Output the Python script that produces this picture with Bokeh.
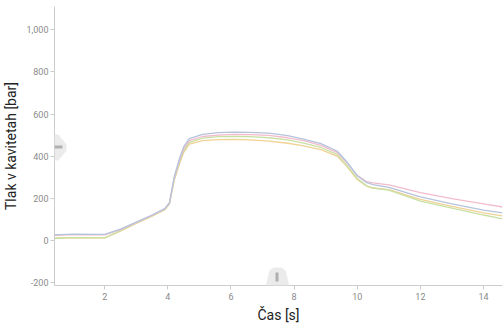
from bokeh.plotting import figure
from bokeh.models import Range1d, FixedTicker, NumeralTickFormatter, PolyAnnotation, BoxAnnotation
from bokeh.embed import file_html
from bokeh.resources import INLINE

# time [s]
times = [0.41, 1.0, 2.0, 2.5, 3.0, 3.5, 3.9, 4.05, 4.2, 4.37, 4.5, 4.68, 5.1, 5.6, 6.1,
         6.6, 7.2, 7.8, 8.3, 8.85, 9.37, 9.68, 10.0, 10.3, 10.5, 11.0, 12.0, 13.0, 14.0, 14.6]
# cavity pressure [bar]
blue = [28, 31, 30, 55, 88, 122, 152, 180, 302, 390, 445, 484, 504, 512, 515,
        514, 510, 498, 482, 460, 424, 372, 308, 275, 266, 253, 208, 175, 145, 132]
pink = [26, 29, 28, 53, 86, 120, 150, 178, 295, 380, 435, 474, 494, 501, 504,
        503, 499, 488, 474, 452, 418, 368, 310, 280, 274, 265, 228, 200, 175, 160]
green = [12, 15, 14, 48, 84, 118, 148, 176, 290, 372, 425, 466, 486, 493, 495,
         493, 488, 478, 463, 442, 408, 356, 295, 260, 250, 240, 188, 155, 122, 104]
orange = [12, 15, 14, 46, 82, 116, 146, 174, 285, 365, 418, 458, 474, 479, 480,
          478, 472, 462, 450, 432, 400, 350, 290, 258, 250, 242, 196, 163, 132, 118]

x_ticks = [2, 4, 6, 8, 10, 12, 14]
y_ticks = [-200, 0, 200, 400, 600, 800, 1000]

p = figure(width=503, height=325, output_backend="svg", toolbar_location=None,
           x_range=Range1d(0.41, 14.6), y_range=Range1d(-212, 1110),
           min_border_left=49, min_border_right=1, min_border_top=6, min_border_bottom=39)
p.outline_line_color = None
p.xgrid.grid_line_color = None
p.ygrid.grid_line_color = None
p.background_fill_color = "white"

series = [(orange, "#efd294"), (green, "#c9e0a4"), (pink, "#f2bccc"), (blue, "#b5c3dc")]
for ys, c in series:
    p.line(times, ys, line_color=c, line_width=1.3)

for ax in (p.xaxis, p.yaxis):
    ax.axis_line_color = "#cccccc"
    ax.major_tick_line_color = "#cccccc"
    ax.minor_tick_line_color = None
    ax.major_tick_out = 4
    ax.major_tick_in = 0
    ax.major_label_text_color = "#8a8a8a"
    ax.major_label_text_font = "Roboto"
    ax.major_label_text_font_size = "9px"
    ax.axis_label_text_font = "Roboto"
    ax.axis_label_text_font_size = "14px"
    ax.axis_label_text_font_style = "normal"
    ax.axis_label_text_color = "#222222"

p.xaxis.ticker = FixedTicker(ticks=x_ticks)
p.yaxis.ticker = FixedTicker(ticks=y_ticks)
p.yaxis.formatter = NumeralTickFormatter(format="0,0")
p.xaxis.axis_label = "Čas [s]"
p.yaxis.axis_label = "Tlak v kavitetah [bar]"
p.xaxis.major_label_standoff = 3
p.yaxis.major_label_standoff = 2
p.xaxis.axis_label_standoff = 4
p.yaxis.axis_label_standoff = 4

# navigator handles (decoration, canvas pixels)
p.add_layout(PolyAnnotation(xs=[48, 58, 66, 66, 58, 48], ys=[134, 134, 144, 150, 160, 160],
                            xs_units="canvas", ys_units="canvas",
                            fill_color="#e6e6e6", fill_alpha=0.8, line_color=None))
p.add_layout(BoxAnnotation(left=54, right=62, top=145, bottom=148,
                           left_units="canvas", right_units="canvas",
                           top_units="canvas", bottom_units="canvas",
                           fill_color="#b0b0b0", fill_alpha=1.0, line_color=None))
p.add_layout(PolyAnnotation(xs=[265, 269, 273, 281, 285, 289], ys=[286, 270, 267, 267, 270, 286],
                            xs_units="canvas", ys_units="canvas",
                            fill_color="#e6e6e6", fill_alpha=0.8, line_color=None))
p.add_layout(BoxAnnotation(left=275, right=278, top=272, bottom=281,
                           left_units="canvas", right_units="canvas",
                           top_units="canvas", bottom_units="canvas",
                           fill_color="#b0b0b0", fill_alpha=1.0, line_color=None))

open("out.html", "w").write(file_html(p, INLINE))
